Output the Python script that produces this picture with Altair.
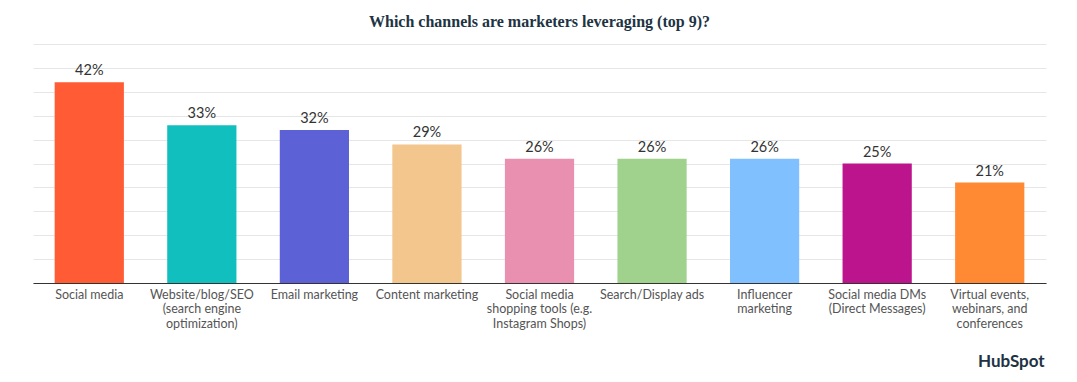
import altair as alt
import pandas as pd

categories = [
    "Social media",
    "Website/blog/SEO|(search engine|optimization)",
    "Email marketing",
    "Content marketing",
    "Social media|shopping tools (e.g.|Instagram Shops)",
    "Search/Display ads",
    "Influencer|marketing",
    "Social media DMs|(Direct Messages)",
    "Virtual events,|webinars, and|conferences",
]
values = [42, 33, 32, 29, 26, 26, 26, 25, 21]
colors = ["#FF5C35", "#10BFBE", "#5C62D6", "#F2C68C", "#E990B0",
          "#A1D28D", "#80C0FF", "#BC148C", "#FF8A33"]
grid_ticks = [0, 5, 10, 15, 20, 25, 30, 35, 40, 45, 50]

df = pd.DataFrame({"cat": categories, "value": values, "color": colors})
df["label"] = df["value"].astype(str) + "%"

LABEL_FONT = "Lato"

x = alt.X("cat:N", sort=categories, title=None,
          scale=alt.Scale(paddingInner=0.385, paddingOuter=0.1925),
          axis=alt.Axis(labelExpr="split(datum.label, '|')", labelAngle=0,
                        labelFont=LABEL_FONT, labelFontSize=12.5, labelColor="#555555",
                        labelLineHeight=14.5, labelPadding=5, ticks=False, grid=False,
                        domainColor="#333333", domainWidth=1.2, labelLimit=200))
y = alt.Y("value:Q", title=None,
          scale=alt.Scale(domain=[0, 50], nice=False),
          axis=alt.Axis(values=grid_ticks, labels=False, ticks=False, domain=False,
                        grid=True, gridColor="#E6E6E6", gridWidth=1, tickCount=11,
                        labelOverlap=False))

bars = alt.Chart(df).mark_bar().encode(
    x=x, y=y, color=alt.Color("color:N", scale=None)
)

text = alt.Chart(df).mark_text(
    baseline="bottom", dy=-4, font=LABEL_FONT, fontSize=14.5, color="#333333"
).encode(x=x, y=y, text="label:N")

logo_df = pd.DataFrame({"t": ["HubSpot"]})
logo = alt.Chart(logo_df).mark_text(
    font="Lato", fontWeight="bold", fontSize=17, color="#213343", align="left", baseline="middle"
).encode(x=alt.value(945), y=alt.value(318), text="t:N")

chart = alt.layer(bars, text, logo).properties(
    width=1013,
    height=239,
    background="white",
    title=alt.TitleParams(
        "Which channels are marketers leveraging (top 9)?",
        font="Liberation Serif", fontSize=16, fontWeight="bold", color="#213343",
        anchor="middle", offset=14,
    ),
    padding={"left": 25, "top": 36, "right": 23, "bottom": 91},
    autosize=alt.AutoSizeParams(type="none"),
).configure_view(strokeWidth=0, stroke="transparent")

chart.save("out.html", embed_options={"renderer": "svg", "actions": False})
